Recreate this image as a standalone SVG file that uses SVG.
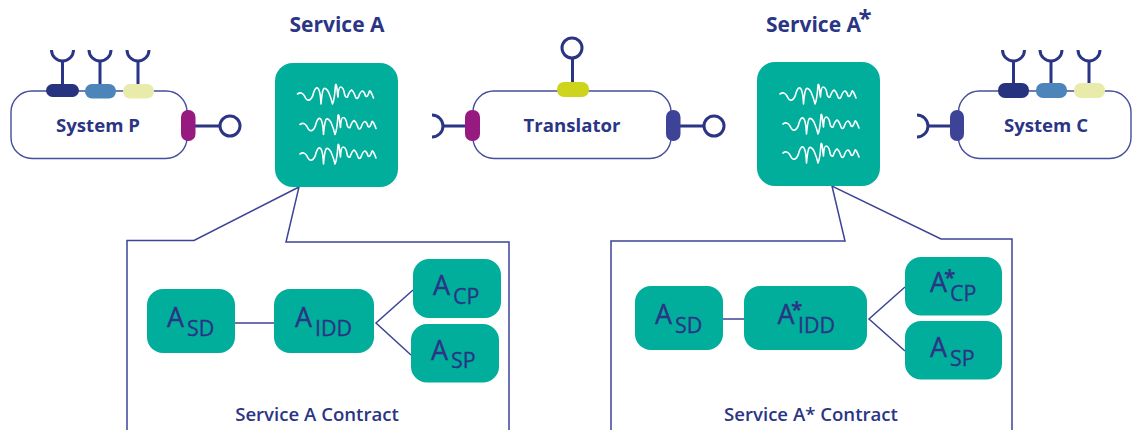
<svg xmlns="http://www.w3.org/2000/svg" width="1132" height="430" viewBox="0 0 1132 430">
<style>
text{font-family:"Open Sans","Noto Sans","Liberation Sans",sans-serif;fill:#2b3585}
.t{font-size:21px;font-weight:700}
.n{font-size:18.600px;font-weight:700}
.c{font-size:18.600px;font-weight:600}
.m{text-anchor:middle}
.A{font-size:27px;font-weight:400;stroke:#2b3585;stroke-width:.35}
.s{font-size:21.500px;font-weight:400;stroke:#2b3585;stroke-width:.3}
.st{font-size:24px;font-weight:700}
.sm{font-size:21px;font-weight:700;stroke:none}
.sys{fill:#fff;stroke:#454e9c;stroke-width:1.4}
.lnk{fill:none;stroke:#2b3585;stroke-width:3}
.box{fill:#00ae9b}
.thin{fill:none;stroke:#3b4495;stroke-width:1.5}
.wave{fill:none;stroke:#fff;stroke-width:1.6;stroke-linejoin:round;stroke-linecap:round}
</style>
<defs>
<path id="w" class="wave" d="M0 0Q4-3 7 2Q9 7 12 6Q15 4 16-1Q18-7 20-6Q22-5 23 3L23.5 10Q24.500-2 26-5Q28-7 31-2Q34 5 35 10Q37 6 38-9Q39-12 40 0L40.500 3Q41-7 43-7Q46-7 47 0Q48 4 50 3Q52-3 54-4Q56-3 58 3Q59 6 61 3Q63-3 65-3Q67-2 68 2Q70 4 72-3Q73-4 76 4"/>
<path id="cup" class="lnk" d="M-11 0A11 11 0 0 0 11 0"/>
<path id="cupR" class="lnk" d="M0-11A11 11 0 0 1 0 11"/>
</defs>

<g id="connectors">
<path class="thin" d="M127 430V240.500H194L299 187L286 242H509V430"/>
<path class="thin" d="M611 430V241H845L832 186L941 239H1012V430"/>
<path class="thin" d="M235 323H274M413 290L376 323L411 355"/>
<path class="thin" d="M723 319H744M905 287L869 319L905 351"/>
</g>

<g id="system-p">
<rect class="sys" x="11" y="91" width="176" height="67.500" rx="21"/>
<path class="lnk" d="M62.500 84V61M100 84V61M138 84V61M195 126H220"/>
<use href="#cup" x="62.500" y="50"/><use href="#cup" x="100" y="50"/><use href="#cup" x="138" y="50"/>
<circle class="lnk" cx="230" cy="126" r="10"/>
<rect x="46" y="84" width="33" height="13" rx="6.500" fill="#27337f"/>
<rect x="85" y="84" width="31" height="14.500" rx="7" fill="#4d84b9"/>
<rect x="123" y="84" width="31" height="14.500" rx="7" fill="#e8ebaa"/>
<rect x="181" y="110" width="14.500" height="31" rx="7" fill="#961a7f"/>
<text class="n m" x="98" y="132">System P</text>
</g>

<g id="service-a">
<text class="t m" x="337" y="32">Service A</text>
<rect class="box" x="275" y="63" width="123" height="124" rx="18"/>
<use href="#w" x="297.500" y="94"/><use href="#w" x="300" y="124.500"/><use href="#w" x="300" y="154"/>
</g>

<g id="translator">
<rect class="sys" x="473" y="91" width="198" height="67.500" rx="21"/>
<path class="lnk" d="M572.500 82V58M443 126H466M680 126H704"/>
<circle class="lnk" cx="572" cy="48" r="10"/>
<circle class="lnk" cx="714" cy="126" r="10"/>
<use href="#cupR" x="432" y="126"/>
<rect x="557" y="82" width="32" height="15" rx="7" fill="#ccd51c"/>
<rect x="465" y="110" width="15" height="31" rx="7" fill="#961a7f"/>
<rect x="666" y="110" width="14.500" height="31" rx="7" fill="#3d4396"/>
<text class="n m" x="572" y="132">Translator</text>
</g>

<g id="service-a-star">
<text class="t" x="766" y="32">Service A<tspan class="st" x="858.500" y="27">*</tspan></text>
<rect class="box" x="757" y="62" width="123" height="124" rx="18"/>
<use href="#w" x="780" y="94"/><use href="#w" x="783" y="124"/><use href="#w" x="783" y="153"/>
</g>

<g id="system-c">
<rect class="sys" x="958.500" y="91" width="172.500" height="67.500" rx="21"/>
<path class="lnk" d="M1013.500 83V61M1051 83V61M1089 83V61M927 126H950"/>
<use href="#cup" x="1013.500" y="50"/><use href="#cup" x="1051" y="50"/><use href="#cup" x="1089" y="50"/>
<use href="#cupR" x="917" y="126"/>
<rect x="998" y="83" width="31" height="15" rx="7" fill="#27337f"/>
<rect x="1036" y="83" width="31" height="15" rx="7" fill="#4d84b9"/>
<rect x="1074" y="83" width="31" height="15" rx="7" fill="#e8ebaa"/>
<rect x="950" y="110" width="14" height="31" rx="7" fill="#3d4396"/>
<text class="n m" x="1046" y="132">System C</text>
</g>

<g id="contract-a">
<rect class="box" x="147" y="289" width="88" height="64" rx="16"/>
<text class="A" x="167" y="327">A<tspan class="s" x="187" y="336">SD</tspan></text>
<rect class="box" x="274" y="289" width="100" height="64" rx="16"/>
<text class="A" x="295" y="327">A<tspan class="s" x="315" y="336">IDD</tspan></text>
<rect class="box" x="413" y="259" width="88" height="59" rx="16"/>
<text class="A" x="433" y="295">A<tspan class="s" x="453" y="304">CP</tspan></text>
<rect class="box" x="411" y="324" width="88" height="58.500" rx="16"/>
<text class="A" x="431" y="360">A<tspan class="s" x="451" y="368">SP</tspan></text>
<text class="c m" x="317" y="421">Service A Contract</text>
</g>

<g id="contract-a-star">
<rect class="box" x="635" y="286" width="88" height="64" rx="16"/>
<text class="A" x="655" y="324">A<tspan class="s" x="675" y="333">SD</tspan></text>
<rect class="box" x="744" y="286" width="123" height="64" rx="16"/>
<text class="A" x="777.500" y="324">A<tspan class="sm" x="791" y="317">*</tspan><tspan class="s" x="798" y="333">IDD</tspan></text>
<rect class="box" x="905" y="257" width="97" height="58.500" rx="16"/>
<text class="A" x="930" y="292">A<tspan class="sm" x="944" y="285">*</tspan><tspan class="s" x="950" y="301">CP</tspan></text>
<rect class="box" x="905" y="321" width="97" height="58.500" rx="16"/>
<text class="A" x="930" y="357">A<tspan class="s" x="950" y="366">SP</tspan></text>
<text class="c m" x="811" y="421">Service A* Contract</text>
</g>
</svg>
